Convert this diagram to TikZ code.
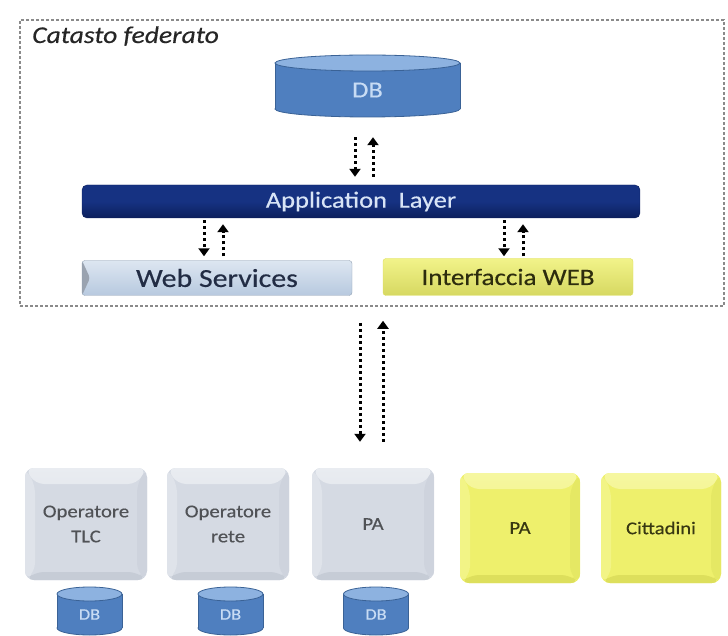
\documentclass[tikz,border=0pt]{standalone}
\usepackage{fontspec}
\setmainfont{Carlito}[FakeStretch=1.15, FakeBold=0.4]
\usetikzlibrary{arrows.meta,calc}
\definecolor{dbbody}{HTML}{4F7FBF}
\definecolor{dbtop}{HTML}{8DB2E0}
\definecolor{dbline}{HTML}{3A6296}
\definecolor{dbtext}{HTML}{C8DCF4}
\definecolor{appdark}{HTML}{0C1F5C}
\definecolor{appmid}{HTML}{163282}
\definecolor{apptext}{HTML}{D8E4F6}
\definecolor{wstop}{HTML}{DDE6F1}
\definecolor{wsbot}{HTML}{B7C9DF}
\definecolor{wstext}{HTML}{222C44}
\definecolor{ywface}{HTML}{EEF06C}
\definecolor{ywlight}{HTML}{F6F7A0}
\definecolor{ywdark}{HTML}{DDDF5C}
\definecolor{ywtext}{HTML}{383812}
\definecolor{grface}{HTML}{D5DAE3}
\definecolor{grlight}{HTML}{E9ECF1}
\definecolor{grdark}{HTML}{C6CCD6}
\definecolor{grtext}{HTML}{505256}
\definecolor{framegray}{HTML}{8A8A8A}
\newcommand{\dbcyl}[7]{% name, cx, cy, halfw, halfh, ry, fontsize
  \filldraw[fill=dbbody, draw=dbline, line width=0.8pt] (#2,#3+#5-#6) ellipse [x radius=#4pt, y radius=#6pt];
  \fill[dbbody] (#2-#4,#3-#5+#6) rectangle (#2+#4,#3+#5-#6);
  \draw[dbline, line width=0.8pt] (#2-#4,#3-#5+#6) -- (#2-#4,#3+#5-#6) (#2+#4,#3-#5+#6) -- (#2+#4,#3+#5-#6);
  \filldraw[fill=dbtop, draw=dbline, line width=0.8pt] (#2,#3-#5+#6) ellipse [x radius=#4pt, y radius=#6pt];
  \node[text=dbtext, font=\fontsize{#7}{#7}\selectfont, minimum width=2*#4, minimum height=2*#5, inner sep=0pt] (#1) at (#2,#3+#6*0.5) {DB};
}
\tikzset{
  flow/.style={line width=3pt, dash pattern=on 3pt off 3pt, -{Triangle[width=11pt,length=8pt]}},
  bevelbox/.style={rounded corners=9pt, inner sep=0pt, align=center,
    path picture={
      \shade[top color=#1light, bottom color=#1face] (path picture bounding box.north west) -- (path picture bounding box.north east)
        -- ([xshift=-10pt,yshift=-16pt]path picture bounding box.north east) -- ([xshift=10pt,yshift=-16pt]path picture bounding box.north west) -- cycle;
      \fill[#1dark] (path picture bounding box.south west) -- (path picture bounding box.south east)
        -- ([xshift=-10pt,yshift=8pt]path picture bounding box.south east) -- ([xshift=10pt,yshift=8pt]path picture bounding box.south west) -- cycle;
      \fill[#1light!50!#1face] (path picture bounding box.north west) -- ([xshift=10pt,yshift=-16pt]path picture bounding box.north west)
        -- ([xshift=10pt,yshift=8pt]path picture bounding box.south west) -- (path picture bounding box.south west) -- cycle;
      \fill[#1dark!50!#1face] (path picture bounding box.north east) -- ([xshift=-10pt,yshift=-16pt]path picture bounding box.north east)
        -- ([xshift=-10pt,yshift=8pt]path picture bounding box.south east) -- (path picture bounding box.south east) -- cycle;
    }},
  graybox/.style={bevelbox=gr, fill=grface, text=grtext, minimum width=122pt, minimum height=112pt,
    font=\fontsize{18}{25}\selectfont},
  yellowbox/.style={bevelbox=yw, fill=ywface, text=ywtext, minimum width=120pt, minimum height=110pt,
    font=\fontsize{18}{25}\selectfont},
}
\begin{document}
\begin{tikzpicture}[x=1pt, y=-1pt]
\useasboundingbox (0,0) rectangle (728,636);
% federated frame
\node[draw=framegray, line width=1.5pt, dash pattern=on 3pt off 2pt, minimum width=704pt, minimum height=286pt, inner sep=0pt] (frame) at (372,163) {};
\node[anchor=base west, inner sep=0pt, text=black!85, font=\fontsize{24}{28}\selectfont\itshape] (title) at (32,43) {Catasto federato};
% central DB
\dbcyl{db}{367.5}{86}{92.5}{31}{8}{23}
% application layer
\node[rounded corners=5pt, top color=appmid, bottom color=appdark, middle color=appmid, draw=appdark,
      minimum width=558pt, minimum height=33pt, inner sep=0pt, text=apptext,
      font=\fontsize{23}{23}\selectfont] (app) at (361,201.5) {Application\hspace{0.25em} Layer};
% web services & interfaccia
\node[rounded corners=3pt, top color=wstop, bottom color=wsbot, draw=wsbot!80!black, line width=0.4pt,
      minimum width=270pt, minimum height=35pt, inner sep=0pt, text=wstext,
      path picture={\fill[wsbot!70!black!80] (path picture bounding box.north west) -- ([xshift=8pt]path picture bounding box.west) -- (path picture bounding box.south west) -- cycle;},
      font=\fontsize{26}{26}\selectfont] (ws) at (217,278) {Web Services};
\node[rounded corners=3pt, top color=ywface!80!white, bottom color=ywface!90!black, draw=ywdark, line width=0.4pt,
      minimum width=250pt, minimum height=37pt, inner sep=0pt, text=ywtext!80!black,
      font=\fontsize{23.5}{23.5}\selectfont] (iw) at (508,277) {Interfaccia WEB};
% bottom boxes
\node[graybox] (tlc) at (86,524) {Operatore\\TLC};
\node[graybox] (rete) at (228,524) {Operatore\\rete};
\node[graybox] (pa) at (373,524) {PA};
\node[yellowbox] (pay) at (520,528) {PA};
\node[yellowbox] (citt) at (661,528) {Cittadini};
% small DBs
\dbcyl{dba}{89.5}{611}{32.5}{24}{7}{16}
\dbcyl{dbb}{230.5}{611}{32.5}{24}{7}{16}
\dbcyl{dbc}{376}{611}{32.5}{24}{7}{16}
% connectors
\draw[flow, shorten <=16pt, shorten >=8pt] ([xshift=-12.5pt]db.south) -- ([xshift=-12.5pt]db.south |- app.north);
\draw[flow, shorten <=8pt, shorten >=16pt] ([xshift=5.5pt]db.south |- app.north) -- ([xshift=5.5pt]db.south);
\draw[flow, shorten <=2pt, shorten >=4pt] ([xshift=-13pt]ws.north |- app.south) -- ([xshift=-13pt]ws.north);
\draw[flow, shorten <=4pt, shorten >=6pt] ([xshift=6pt]ws.north) -- ([xshift=6pt]ws.north |- app.south);
\draw[flow, shorten <=2pt, shorten >=2pt] ([xshift=-4pt]iw.north |- app.south) -- ([xshift=-4pt]iw.north);
\draw[flow, shorten <=2pt, shorten >=6pt] ([xshift=15pt]iw.north) -- ([xshift=15pt]iw.north |- app.south);
\draw[flow, shorten <=16pt, shorten >=26pt] ([xshift=-13pt]pa.north |- frame.south) -- ([xshift=-13pt]pa.north);
\draw[flow, shorten <=26pt, shorten >=14pt] ([xshift=10pt]pa.north) -- ([xshift=10pt]pa.north |- frame.south);
\end{tikzpicture}
\end{document}
